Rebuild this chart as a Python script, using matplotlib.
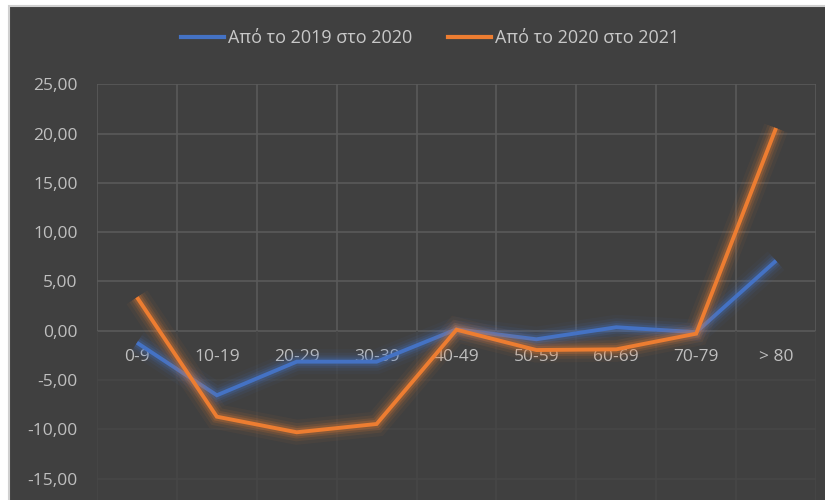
import matplotlib
matplotlib.use("Agg")
import matplotlib.pyplot as plt
import matplotlib.patheffects as pe
from matplotlib.patches import Rectangle
from matplotlib.lines import Line2D

categories = ["0-9", "10-19", "20-29", "30-39", "40-49", "50-59", "60-69", "70-79", "> 80"]
series_2019_2020 = [-1.22, -6.55, -3.14, -3.14, 0.14, -0.87, 0.35, -0.15, 7.1]
series_2020_2021 = [3.39, -8.72, -10.3, -9.46, 0.1, -1.96, -1.89, -0.3, 20.55]
series_names = ["Από το 2019 στο 2020", "Από το 2020 στο 2021"]
yticks = [-15, -10, -5, 0, 5, 10, 15, 20, 25]
ytick_labels = ["-15,00", "-10,00", "-5,00", "0,00", "5,00", "10,00", "15,00", "20,00", "25,00"]

FONT = ["Open Sans", "DejaVu Sans"]
plt.rcParams['font.family'] = FONT

BG = "#404040"
TXT = "#bfbfbf"
fig = plt.figure(figsize=(8.25, 5.0), dpi=100)
fig.patch.set_facecolor("white")
fig.patches.append(Rectangle((9/825, -0.01), 1 - 9/825 + 0.01, 1 - 6/500 + 0.01, transform=fig.transFigure,
                             facecolor=BG, edgecolor="#d0d0d0", linewidth=1.5, zorder=-5))

ax = fig.add_axes([97/825, 0.0, 719/825, 1 - 84.2/500])
ax.set_zorder(2)
ax.set_facecolor(BG)
ax.set_xlim(-0.5, len(categories) - 0.5)
ax.set_ylim(-17.17, 25)

# gridlines
for v in yticks:
    c = "#5a5a5a" if v >= 0 else "#474747"
    ax.axhline(v, color=c, lw=1.2, zorder=1)
for i in range(len(categories) + 1):
    x = i - 0.5
    ax.vlines(x, 0, 25, color="#5a5a5a", lw=1.2, zorder=1)
    ax.vlines(x, -17.17, 0, color="#474747", lw=1.2, zorder=1)

for s in ax.spines.values():
    s.set_visible(False)

ax.set_yticks(yticks)
ax.set_yticklabels(ytick_labels)
ax.tick_params(axis='y', length=0, pad=14, labelsize=12.5, labelcolor=TXT)

xs = list(range(len(categories)))
ax.set_xticks(xs)
ax.set_xticklabels(categories)
ax.spines['bottom'].set_position(('data', 0))
ax.tick_params(axis='x', length=0, pad=13, labelsize=12.5, labelcolor=TXT)

colors = ["#4472C4", "#ED7D31"]
for vals, col, name, z in zip([series_2019_2020, series_2020_2021], colors, series_names, [3, 4]):
    glow = [pe.Stroke(linewidth=18, foreground=col, alpha=0.05),
            pe.Stroke(linewidth=13, foreground=col, alpha=0.09),
            pe.Stroke(linewidth=9, foreground=col, alpha=0.14),
            pe.Stroke(linewidth=6, foreground=col, alpha=0.22),
            pe.Normal()]
    ax.plot(xs, vals, color=col, lw=2.8, zorder=z, path_effects=glow,
            solid_joinstyle='miter', solid_capstyle='butt')

handles = [Line2D([], [], color=c, lw=3) for c in colors]
leg = fig.legend(handles, series_names, loc='center', bbox_to_anchor=(430/825, 1 - 38/500), ncol=2,
                 frameon=False, fontsize=13, handlelength=2.4, handletextpad=0.2,
                 columnspacing=2.0, labelcolor="#c8c8c8")

fig.savefig("out.png", dpi=100, facecolor=fig.get_facecolor())
